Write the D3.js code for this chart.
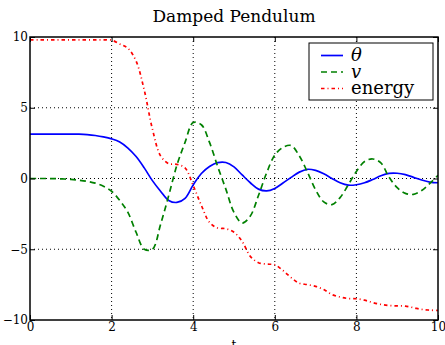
<!DOCTYPE html>
<html>
<head>
<meta charset="utf-8">
<script src="https://cdn.jsdelivr.net/npm/d3@7/dist/d3.min.js"></script>
<style>
  body { margin: 0; background: #fff; }
  text { font-family: "DejaVu Serif", serif; fill: #000; }
</style>
</head>
<body>
<div class="chart"></div>
<script>
// time samples (s)
var t = [0, 0.2, 0.4, 0.6, 0.8, 1.0, 1.2, 1.4, 1.6, 1.8,
         2.0, 2.2, 2.4, 2.6, 2.8, 3.0, 3.2, 3.4, 3.6, 3.8,
         4.0, 4.2, 4.4, 4.6, 4.8, 5.0, 5.2, 5.4, 5.6, 5.8,
         6.0, 6.2, 6.4, 6.6, 6.8, 7.0, 7.2, 7.4, 7.6, 7.8,
         8.0, 8.2, 8.4, 8.6, 8.8, 9.0, 9.2, 9.4, 9.6, 9.8, 10.0];

var theta = [3.14, 3.14, 3.14, 3.14, 3.14, 3.14, 3.13, 3.10, 3.04, 2.94,
             2.80, 2.58, 2.15, 1.55, 0.75, -0.15, -0.90, -1.55, -1.69, -1.40,
             -0.45, 0.35, 0.85, 1.12, 1.13, 0.82, 0.25, -0.30, -0.75, -0.88,
             -0.70, -0.32, 0.08, 0.45, 0.65, 0.57, 0.33, 0.00, -0.30, -0.47,
             -0.44, -0.30, -0.07, 0.19, 0.36, 0.37, 0.27, 0.08, -0.11, -0.25, -0.30];

var v = [0, 0, 0, -0.01, -0.03, -0.06, -0.12, -0.20, -0.33, -0.55,
         -0.90, -1.55, -2.40, -3.80, -5.00, -5.00, -3.25, -1.20, 0.93, 2.55,
         3.95, 3.80, 2.55, 0.85, -0.75, -2.40, -3.15, -2.65, -1.20, 0.40,
         1.65, 2.20, 2.33, 1.60, 0.45, -0.80, -1.65, -1.85, -1.35, -0.45,
         0.50, 1.20, 1.38, 1.10, 0.10, -0.65, -1.05, -1.12, -0.85, -0.35, 0.23];

var energy = [9.8, 9.8, 9.8, 9.8, 9.8, 9.8, 9.8, 9.8, 9.8, 9.8,
              9.78, 9.5, 9.2, 8.3, 6.25, 3.5, 1.6, 1.05, 1.0, 0.75,
              -0.5, -1.9, -3.1, -3.5, -3.55, -3.8, -4.45, -5.5, -5.95, -6.05,
              -6.1, -6.5, -7.0, -7.4, -7.5, -7.62, -7.85, -8.2, -8.38, -8.48,
              -8.5, -8.6, -8.77, -8.9, -8.98, -9.0, -9.02, -9.13, -9.25, -9.3, -9.33];

var xTicks = [0, 2, 4, 6, 8, 10];
var yTicks = [-10, -5, 0, 5, 10];

var margin = { top: 37, right: 7, bottom: 25, left: 30 };
var width = 445 - margin.left - margin.right;
var height = 345 - margin.top - margin.bottom;

var svg = d3.select('.chart')
  .append('svg')
    .attr('width', 445)
    .attr('height', 345)
  .append('g')
    .attr('transform', `translate(${margin.left}, ${margin.top})`);

var xScale = d3.scaleLinear().domain([0, 10]).range([0, width]);
var yScale = d3.scaleLinear().domain([-10, 10]).range([height, 0]);

svg.append('clipPath').attr('id', 'clip')
  .append('rect').attr('width', width).attr('height', height);

// dotted grid
svg.append('g').selectAll('line')
  .data(xTicks.slice(1, -1))
  .enter().append('line')
    .attr('x1', d => xScale(d)).attr('x2', d => xScale(d))
    .attr('y1', 0).attr('y2', height)
    .attr('stroke', '#000').attr('stroke-width', 1)
    .attr('stroke-dasharray', '1,3');
svg.append('g').selectAll('line')
  .data(yTicks.slice(1, -1))
  .enter().append('line')
    .attr('y1', d => yScale(d)).attr('y2', d => yScale(d))
    .attr('x1', 0).attr('x2', width)
    .attr('stroke', '#000').attr('stroke-width', 1)
    .attr('stroke-dasharray', '1,3');

var series = [
  { name: 'theta', values: theta, color: '#0000ff', dash: null },
  { name: 'v', values: v, color: '#008000', dash: '6,4' },
  { name: 'energy', values: energy, color: '#ff0000', dash: '3.5,3,1,3' }
];

var line = d3.line()
  .x((d, i) => xScale(t[i]))
  .y(d => yScale(d))
  .curve(d3.curveCatmullRom);

svg.append('g').attr('clip-path', 'url(#clip)')
  .selectAll('path')
  .data(series)
  .enter().append('path')
    .attr('d', d => line(d.values))
    .attr('fill', 'none')
    .attr('stroke', d => d.color)
    .attr('stroke-width', 1.7)
    .attr('stroke-dasharray', d => d.dash);

// axes, ticks pointing inward on all four sides
var xAxis = d3.axisBottom(xScale).tickValues(xTicks).tickSize(-5).tickPadding(2).tickSizeOuter(0);
var yAxis = d3.axisLeft(yScale).tickValues(yTicks).tickSize(-5).tickPadding(2).tickSizeOuter(0);

var gx = svg.append('g').attr('transform', `translate(0, ${height})`).call(xAxis);
var gy = svg.append('g').call(yAxis);
svg.append('g').call(d3.axisTop(xScale).tickValues(xTicks).tickSize(-5).tickFormat('').tickSizeOuter(0));
svg.append('g').attr('transform', `translate(${width}, 0)`)
  .call(d3.axisRight(yScale).tickValues(yTicks).tickSize(-5).tickFormat('').tickSizeOuter(0));

svg.selectAll('.domain').remove();
svg.selectAll('.tick line').attr('stroke', '#000').attr('stroke-width', 1);
gx.attr('font-family', '"DejaVu Serif", serif').attr('font-size', 12);
gy.attr('font-family', '"DejaVu Serif", serif').attr('font-size', 12);
gx.selectAll('text').attr('fill', '#000');
gy.selectAll('text').attr('fill', '#000');

svg.append('rect')
  .attr('width', width).attr('height', height)
  .attr('fill', 'none').attr('stroke', '#000').attr('stroke-width', 1.5);

svg.append('text')
  .attr('x', width / 2).attr('y', -15)
  .attr('text-anchor', 'middle')
  .style('font-size', '17px')
  .text('Damped Pendulum');

svg.append('text')
  .attr('x', width / 2).attr('y', height + 29)
  .attr('text-anchor', 'middle')
  .style('font-size', '12px')
  .text('t');

// legend
var legend = svg.append('g').attr('transform', 'translate(279, 6)');
legend.append('rect')
  .attr('width', 124).attr('height', 57)
  .attr('fill', '#fff').attr('stroke', '#000').attr('stroke-width', 1);
var labels = ['θ', 'v', 'energy'];
var item = legend.selectAll('.item')
  .data(series)
  .enter().append('g')
    .attr('transform', (d, i) => `translate(0, ${12.5 + i * 16.5})`);
item.append('line')
  .attr('x1', 12).attr('x2', 34)
  .attr('stroke', d => d.color).attr('stroke-width', 1.7)
  .attr('stroke-dasharray', d => d.dash);
item.append('text')
  .attr('x', 42).attr('y', 0).attr('dy', '0.32em')
  .style('font-size', '18px')
  .style('font-style', (d, i) => i < 2 ? 'italic' : 'normal')
  .text((d, i) => labels[i]);
</script>
</body>
</html>
